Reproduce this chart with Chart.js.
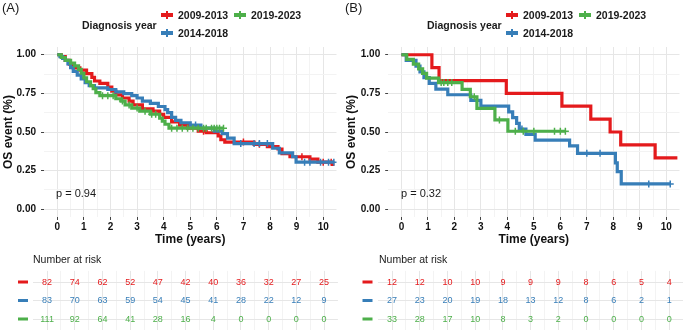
<!DOCTYPE html>
<html>
<head>
<meta charset="utf-8">
<script src="https://cdn.jsdelivr.net/npm/chart.js@4.4.1/dist/chart.umd.min.js"></script>
<style>
  body { margin: 0; width: 685px; height: 331px; background: #fff; position: relative; overflow: hidden;
         font-family: "Liberation Sans", Arial, sans-serif; color: #1a1a1a; }
  canvas { position: absolute; }
  .txt { position: absolute; white-space: nowrap; line-height: 12px; }
  .tag { font-size: 13px; }
  .bold { font-weight: bold; font-size: 10.5px; }
  .key { display: inline-block; width: 12px; height: 3.5px; margin-right: 5px; vertical-align: middle; position: relative; top: -1px; }
  .key::after { content: ""; position: absolute; left: 5px; top: -2px; width: 1.5px; height: 7.5px; background: inherit; }
  .risk-title { font-size: 10.5px; }
  .pval { font-size: 11px; }
</style>
</head>
<body>
<canvas id="kmA" width="342" height="250" style="left:0;top:0"></canvas>
<canvas id="kmB" width="343" height="250" style="left:342px;top:0"></canvas>
<canvas id="riskA" width="342" height="69" style="left:0;top:262px"></canvas>
<canvas id="riskB" width="343" height="69" style="left:342px;top:262px"></canvas>
<div id="labels"></div>
<script>
// Groups and colours
const groups = ["2009-2013", "2014-2018", "2019-2023"];
const colors = ["#E41A1C", "#377EB8", "#4DAF4A"];

// Panel A: survival steps (time in years, survival probability)
const timeA2009 = [0, 0.15, 0.3, 0.45, 0.6, 0.85, 1.1, 1.3, 1.4, 1.6, 1.9, 2.05, 2.2, 2.45, 2.7, 2.85, 3.2, 3.6, 3.85, 4.0, 4.3, 4.6, 4.9, 5.3, 5.6, 6.05, 6.15, 6.3, 7.4, 7.9, 8.3, 8.45, 8.75, 9.5, 9.8, 10.35, 10.42];
const survA2009 = [1, 0.988, 0.963, 0.939, 0.915, 0.9, 0.878, 0.854, 0.83, 0.815, 0.79, 0.765, 0.74, 0.72, 0.7, 0.675, 0.65, 0.635, 0.615, 0.595, 0.565, 0.545, 0.525, 0.505, 0.495, 0.475, 0.45, 0.435, 0.42, 0.405, 0.39, 0.36, 0.34, 0.325, 0.305, 0.29, 0.29];
const censA2009 = [5.5, 7.0, 7.6, 9.2, 10.0, 10.3];

const timeA2014 = [0, 0.1, 0.2, 0.3, 0.4, 0.5, 0.6, 0.75, 0.9, 1.05, 1.2, 1.4, 1.9, 2.2, 2.5, 2.8, 3.0, 3.2, 3.5, 3.8, 4.05, 4.15, 4.3, 4.45, 4.65, 5.0, 5.4, 5.9, 6.2, 6.4, 6.65, 8.1, 8.35, 8.85, 8.98, 10.4];
const survA2014 = [1, 0.988, 0.976, 0.964, 0.94, 0.916, 0.892, 0.868, 0.844, 0.82, 0.8, 0.785, 0.775, 0.76, 0.748, 0.735, 0.72, 0.7, 0.685, 0.665, 0.645, 0.625, 0.595, 0.575, 0.56, 0.545, 0.525, 0.505, 0.49, 0.46, 0.425, 0.395, 0.365, 0.34, 0.305, 0.305];
const censA2014 = [5.2, 6.9, 7.4, 7.6, 7.9, 9.3, 9.5, 9.9, 10.2, 10.4];

const timeA2019 = [0, 0.15, 0.3, 0.5, 0.65, 0.8, 0.9, 1.0, 1.1, 1.25, 1.35, 1.45, 1.6, 2.2, 2.4, 2.55, 2.8, 3.1, 3.5, 3.85, 3.95, 4.05, 4.2, 6.25];
const survA2019 = [1, 0.982, 0.964, 0.946, 0.928, 0.905, 0.88, 0.85, 0.825, 0.8, 0.78, 0.755, 0.735, 0.715, 0.7, 0.675, 0.655, 0.635, 0.615, 0.59, 0.57, 0.55, 0.525, 0.525];
const censA2019 = [1.7, 1.9, 2.1, 2.45, 2.7, 3.0, 3.3, 3.55, 3.7, 4.3, 4.5, 4.7, 4.9, 5.1, 5.3, 5.5, 5.6, 5.8, 5.9, 6.0, 6.1, 6.25];

// Panel B: survival steps
const timeB2009 = [0, 1.15, 1.42, 3.96, 6.06, 7.15, 7.88, 8.28, 9.58, 10.42];
const survB2009 = [1, 0.917, 0.833, 0.75, 0.667, 0.583, 0.5, 0.417, 0.333, 0.333];
const censB2009 = [];

const timeB2014 = [0, 0.18, 0.55, 0.7, 0.85, 1.05, 1.3, 1.75, 2.62, 3.0, 4.05, 4.2, 4.35, 4.45, 4.7, 5.05, 6.35, 6.65, 8.08, 8.15, 8.3, 10.15];
const survB2014 = [1, 0.963, 0.926, 0.889, 0.852, 0.815, 0.778, 0.741, 0.704, 0.667, 0.63, 0.593, 0.556, 0.519, 0.485, 0.448, 0.41, 0.362, 0.3, 0.243, 0.164, 0.164];
const censB2014 = [4.55, 7.0, 7.5, 9.34, 10.15];

const timeB2019 = [0, 0.2, 0.45, 0.65, 0.8, 0.95, 1.4, 2.29, 2.6, 2.85, 3.53, 4.02, 6.19];
const survB2019 = [1, 0.97, 0.939, 0.909, 0.879, 0.848, 0.82, 0.776, 0.728, 0.653, 0.578, 0.505, 0.505];
const censB2019 = [1.5, 1.6, 1.75, 1.9, 2.75, 3.7, 4.3, 4.6, 5.0, 5.78, 6.0, 6.19];

// Number at risk
const riskYears = [0, 1, 2, 3, 4, 5, 6, 7, 8, 9, 10];
const riskA2009 = [82, 74, 62, 52, 47, 42, 40, 36, 32, 27, 25];
const riskA2014 = [83, 70, 63, 59, 54, 45, 41, 28, 22, 12, 9];
const riskA2019 = [111, 92, 64, 41, 28, 16, 4, 0, 0, 0, 0];
const riskB2009 = [12, 12, 10, 10, 9, 9, 9, 8, 6, 5, 4];
const riskB2014 = [27, 23, 20, 19, 18, 13, 12, 8, 6, 2, 1];
const riskB2019 = [33, 28, 17, 10, 8, 3, 2, 0, 0, 0, 0];

// Axis ticks (majors labelled, halves as minor grid)
const xTicks = [0, 0.5, 1, 1.5, 2, 2.5, 3, 3.5, 4, 4.5, 5, 5.5, 6, 6.5, 7, 7.5, 8, 8.5, 9, 9.5, 10];
const yTicks = [0, 0.125, 0.25, 0.375, 0.5, 0.625, 0.75, 0.875, 1];
const pValues = ["p = 0.94", "p = 0.32"];

Chart.defaults.font.family = '"Liberation Sans", Arial, sans-serif';

function survAt(times, surv, t) {
  let k = 0;
  for (let i = 0; i < times.length; i++) {
    if (times[i] <= t) k = i;
  }
  return surv[k];
}

function curveSets(curves) {
  const sets = [];
  curves.forEach((c, i) => {
    sets.push({
      type: "line",
      data: c.time.map((t, j) => ({ x: t, y: c.surv[j] })),
      stepped: true,
      borderColor: colors[i],
      borderWidth: 3.2,
      pointRadius: 0,
      fill: false,
      order: 3 - i
    });
    sets.push({
      type: "scatter",
      data: c.cens.map((t) => ({ x: t, y: survAt(c.time, c.surv, t) })),
      pointStyle: "cross",
      pointRadius: 3.5,
      borderColor: colors[i],
      borderWidth: 1.5,
      showLine: false,
      order: 3 - i
    });
  });
  return sets;
}

const isMajorX = (v) => Number.isInteger(v);
const isMajorY = (v) => Number.isInteger(v * 4);

function kmChart(id, curves, padLeft, yWidth, padRight) {
  new Chart(document.getElementById(id), {
    type: "line",
    data: { datasets: curveSets(curves) },
    options: {
      animation: false,
      responsive: false,
      events: [],
      layout: { padding: { top: 47, right: padRight, left: padLeft, bottom: 0 } },
      plugins: { legend: { display: false }, tooltip: { enabled: false } },
      scales: {
        x: {
          type: "linear",
          min: -0.5,
          max: 10.5,
          afterBuildTicks: (s) => { s.ticks = xTicks.map((v) => ({ value: v })); },
          afterFit: (s) => { s.height = 33; },
          ticks: {
            autoSkip: false,
            maxRotation: 0,
            padding: 1,
            color: "#111",
            font: { size: 10, weight: "bold" },
            callback: (v) => (isMajorX(v) ? String(v) : "")
          },
          grid: {
            color: (c) => (isMajorX(c.tick.value) ? "#e6e6e6" : "#f3f3f3"),
            tickColor: (c) => (isMajorX(c.tick.value) ? "#444" : "rgba(0,0,0,0)"),
            tickLength: 3
          },
          border: { display: false },
          title: {
            display: true,
            text: "Time (years)",
            color: "#111",
            font: { size: 12, weight: "bold" },
            padding: { top: 0, bottom: 3 }
          }
        },
        y: {
          min: -0.05,
          max: 1.05,
          afterBuildTicks: (s) => { s.ticks = yTicks.map((v) => ({ value: v })); },
          afterFit: (s) => { s.width = yWidth; },
          ticks: {
            autoSkip: false,
            padding: 5,
            color: "#111",
            font: { size: 10, weight: "bold" },
            callback: (v) => (isMajorY(v) ? v.toFixed(2) : "")
          },
          grid: {
            color: (c) => (isMajorY(c.tick.value) ? "#e6e6e6" : "#f3f3f3"),
            tickColor: (c) => (isMajorY(c.tick.value) ? "#444" : "rgba(0,0,0,0)"),
            tickLength: 3
          },
          border: { display: false },
          title: {
            display: true,
            text: "OS event (%)",
            color: "#111",
            font: { size: 12, weight: "bold" },
            padding: { top: 1, bottom: 0 }
          }
        }
      }
    }
  });
}

// Writes the at-risk counts on the table and draws the coloured row keys
const riskLabels = {
  id: "riskLabels",
  afterDatasetsDraw(chart, args, opts) {
    const ctx = chart.ctx;
    ctx.save();
    ctx.font = '9px "Liberation Sans", Arial, sans-serif';
    ctx.textAlign = "center";
    ctx.textBaseline = "middle";
    chart.data.datasets.forEach((ds, i) => {
      const meta = chart.getDatasetMeta(i);
      ctx.fillStyle = ds.borderColor;
      meta.data.forEach((pt, j) => ctx.fillText(String(ds.counts[j]), pt.x, pt.y + 0.5));
      const y = chart.scales.y.getPixelForValue(i + 1);
      ctx.fillRect(opts.keyX - 5, y - 1.5, 10, 3);
    });
    ctx.restore();
  }
};

function riskChart(id, rows, padLeft, padRight, keyX) {
  new Chart(document.getElementById(id), {
    type: "scatter",
    data: {
      datasets: rows.map((r, i) => ({
        data: riskYears.map((t) => ({ x: t, y: i + 1 })),
        counts: r,
        borderColor: colors[i],
        pointRadius: 0
      }))
    },
    options: {
      animation: false,
      responsive: false,
      events: [],
      layout: { padding: { top: 8.9, bottom: 0.9, left: padLeft, right: padRight } },
      plugins: { legend: { display: false }, tooltip: { enabled: false }, riskLabels: { keyX: keyX } },
      scales: {
        x: {
          type: "linear",
          min: -0.5,
          max: 10.5,
          afterBuildTicks: (s) => { s.ticks = xTicks.map((v) => ({ value: v })); },
          afterFit: (s) => { s.height = 0; },
          ticks: { display: false },
          grid: { drawTicks: false, color: (c) => (isMajorX(c.tick.value) ? "#e6e6e6" : "#f3f3f3") },
          border: { display: false }
        },
        y: {
          min: 0.4,
          max: 3.6,
          reverse: true,
          afterBuildTicks: (s) => { s.ticks = [1, 2, 3].map((v) => ({ value: v })); },
          afterFit: (s) => { s.width = 0; },
          ticks: { display: false },
          grid: { drawTicks: false, color: "#e6e6e6" },
          border: { display: false }
        }
      }
    },
    plugins: [riskLabels]
  });
}

kmChart("kmA", [
  { time: timeA2009, surv: survA2009, cens: censA2009 },
  { time: timeA2014, surv: survA2014, cens: censA2014 },
  { time: timeA2019, surv: survA2019, cens: censA2019 }
], 0, 44, 3);

kmChart("kmB", [
  { time: timeB2009, surv: survB2009, cens: censB2009 },
  { time: timeB2014, surv: survB2014, cens: censB2014 },
  { time: timeB2019, surv: survB2019, cens: censB2019 }
], 1, 45.2, 0.5);

riskChart("riskA", [riskA2009, riskA2014, riskA2019], 33.2, 4.1, 23);
riskChart("riskB", [riskB2009, riskB2014, riskB2019], 36.2, 2, 25.5);

// Text around the plots: panel tags, legends, p-values, table titles
function addText(cls, left, top, html) {
  const d = document.createElement("div");
  d.className = "txt " + cls;
  d.style.left = left + "px";
  d.style.top = top + "px";
  d.innerHTML = html;
  document.getElementById("labels").appendChild(d);
}

function legend(offset) {
  addText("bold", offset + 82, 19, "Diagnosis year");
  const pos = [[offset + 161, 9], [offset + 161, 27], [offset + 234, 9]];
  groups.forEach((g, i) => {
    addText("bold", pos[i][0], pos[i][1], '<span class="key" style="background:' + colors[i] + '"></span>' + g);
  });
}

addText("tag", 2, 2, "(A)");
addText("tag", 345, 2, "(B)");
legend(0);
legend(345);
addText("pval", 56, 187, pValues[0]);
addText("pval", 401, 187, pValues[1]);
addText("risk-title", 33, 253, "Number at risk");
addText("risk-title", 379, 253, "Number at risk");
</script>
</body>
</html>
